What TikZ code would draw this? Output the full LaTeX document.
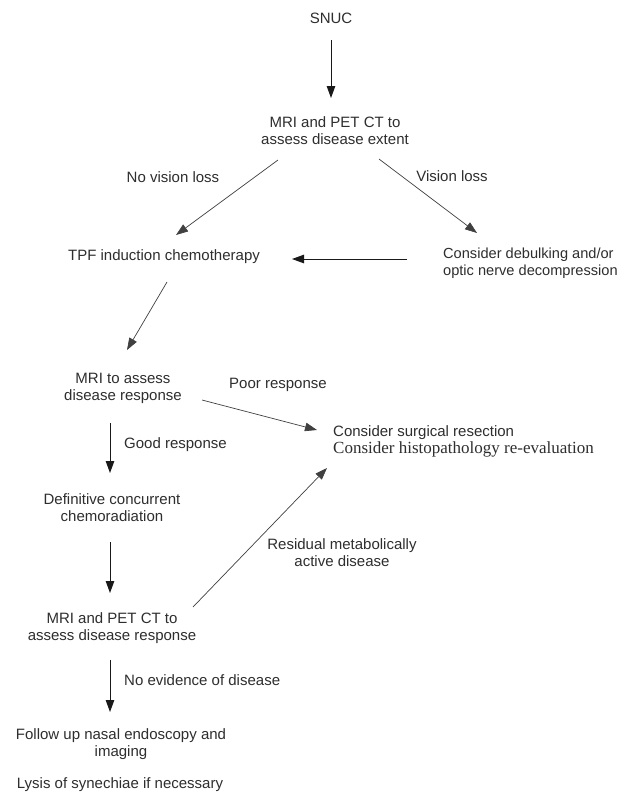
\documentclass[tikz,border=0pt]{standalone}
\usepackage{fontspec}
\setmainfont{Liberation Sans}
\newfontfamily\serifl{Liberation Serif}
\usetikzlibrary{arrows.meta,calc}

\tikzset{
  txt/.style={inner sep=1pt,align=center,text=black!82,font=\fontsize{15}{17}\selectfont},
  arr/.style={-{Triangle[length=12pt,width=8.5pt]},line width=0.9pt,draw=black!90},
  thinarr/.style={arr,line width=0.7pt,draw=black!75}
}

\begin{document}
\begin{tikzpicture}[x=1pt,y=-1pt]
\useasboundingbox[fill=white] (0,0) rectangle (620,796);
% steps of the pathway
\node[txt] (snuc) at (331,18) {SNUC};
\node[txt] (mriext) at (335,131) {MRI and PET CT to\\assess disease extent};
\node[txt] (tpf) at (164,257) {TPF induction chemotherapy};
\node[txt,anchor=west,align=left,font=\fontsize{14.6}{17}\selectfont] (debulk) at (442,263) {Consider debulking and/or\\optic nerve decompression};
\node[txt] (mriresp) at (123,388) {MRI to assess\\disease response};
\node[txt,anchor=west,align=left] (surg) at (332,441) {Consider surgical resection\\{\serifl\fontsize{17}{19}\selectfont Consider histopathology re-evaluation}};
\node[txt] (defin) at (112,508) {Definitive concurrent\\chemoradiation};
\node[txt] (mripet) at (112,628) {MRI and PET CT to\\assess disease response};
\node[txt] (follow) at (121,744) {Follow up nasal endoscopy and\\imaging};
\node[txt] (lysis) at (120,785) {Lysis of synechiae if necessary};
% branch labels
\node[txt] (lnovis) at (173,177) {No vision loss};
\node[txt] (lvis) at (452,176) {Vision loss};
\node[txt,anchor=west] (lpoor) at (228,385) {Poor response};
\node[txt,anchor=west] (lgood) at (123,445) {Good response};
\node[txt] (lresid) at (342,553) {Residual metabolically\\active disease};
\node[txt,anchor=west] (lned) at (123,680) {No evidence of disease};
% arrows
\draw[arr] ($(snuc)+(0,22)$) -- ($(mriext)+(-4,-33)$);
\draw[thinarr] ($(mriext)+(-57,29)$) -- ($(tpf)+(12,-22)$);
\draw[thinarr] ($(mriext)+(44,28)$) -- ($(debulk.west)+(35,-30)$);
\draw[arr] ($(debulk.west)+(-35,-4)$) -- ($(tpf)+(128,2)$);
\draw[thinarr] ($(tpf)+(3,25)$) -- ($(mriresp)+(4,-38)$);
\draw[thinarr] ($(mriresp)+(79,12)$) -- ($(surg.west)+(-15,-11)$);
\draw[arr] ($(mriresp)+(-13,35)$) -- ($(defin)+(-2,-35)$);
\draw[arr] ($(defin)+(-2,34)$) -- ($(mripet)+(-2,-35)$);
\draw[thinarr] ($(mripet)+(81,-21)$) -- ($(surg.west)+(-5,27)$);
\draw[arr] ($(mripet)+(-2,32)$) -- ($(follow)+(-11,-32)$);
\end{tikzpicture}
\end{document}
